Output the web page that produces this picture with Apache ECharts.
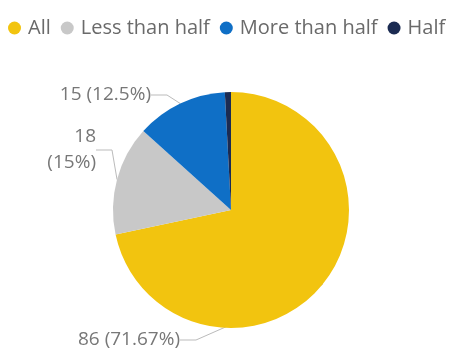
<!DOCTYPE html>
<html lang="en">
  <head>
    <meta charset="UTF-8" />
    <script src="https://cdn.jsdelivr.net/npm/echarts@6/dist/echarts.min.js"></script>
    <title>Pie</title>
    <style>
      html, body { margin: 0; padding: 0; background: #fff; }
    </style>
  </head>
  <body>
    <div id="app" style="width: 449px; height: 350px"></div>

    <script>
      const categories = ["All", "Less than half", "More than half", "Half"];
      const values = [86, 18, 15, 1];
      const colors = ["#F2C40F", "#C8C8C8", "#0F6FC6", "#1B2B52"];

      const echart = echarts.init(document.getElementById("app"));

      function fmtPct(p) {
        return parseFloat(p.toFixed(2));
      }

      // where Power BI put the labels (right edge x, middle y)
      const labelSpots = [
        [180, 340],
        [96, 150],
        [151, 95],
      ];

      const opt = {
        backgroundColor: "#fff",
        textStyle: { fontFamily: "Open Sans" },
        legend: {
          left: 3,
          top: 13,
          width: 800,
          itemWidth: 13,
          itemHeight: 13,
          itemGap: 10,
          icon: "circle",
          textStyle: { color: "#6a6a6a", fontSize: 20, padding: [0, 0, 0, 2] },
          data: categories,
        },
        series: [
          {
            type: "pie",
            center: [231, 210],
            radius: 118,
            startAngle: 90,
            clockwise: true,
            itemStyle: { borderWidth: 0 },
            label: {
              color: "#777",
              fontSize: 19,
              lineHeight: 26,
              overflow: "none",
              formatter: function (p) {
                if (p.dataIndex === 3) return "";
                const txt = p.value + " (" + fmtPct(p.percent) + "%)";
                return p.dataIndex === 1 ? p.value + "\n(" + fmtPct(p.percent) + "%)" : txt;
              },
            },
            labelLine: {
              length: 8,
              length2: 16,
              lineStyle: { color: "#bbb", width: 1 },
            },
            labelLayout: function (params) {
              const s = labelSpots[params.dataIndex];
              if (s) {
                return { x: s[0], y: s[1], align: "right", verticalAlign: "middle" };
              }
            },
            emphasis: { disabled: true },
            data: categories.map(function (c, i) {
              const d = { name: c, value: values[i], itemStyle: { color: colors[i] } };
              if (i === 3) d.label = { show: false };
              if (i === 3) d.labelLine = { show: false };
              return d;
            }),
          },
        ],
      };

      echart.setOption(opt);
    </script>
  </body>
</html>
